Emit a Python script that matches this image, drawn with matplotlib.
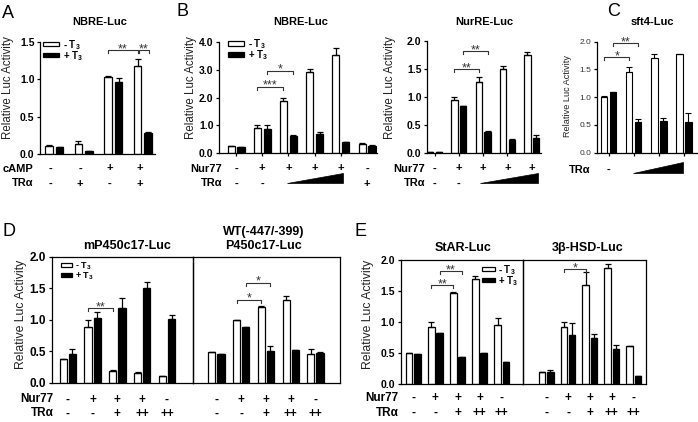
import numpy as np
import matplotlib
matplotlib.use("Agg")
import matplotlib.pyplot as plt
from matplotlib.transforms import Affine2D, blended_transform_factory
from matplotlib.patches import Polygon, Rectangle

plt.rcParams['font.family'] = ['Liberation Sans', 'DejaVu Sans']
plt.rcParams['mathtext.default'] = 'regular'

# ---------------- data ----------------
A_cAMP = ['-', '-', '+', '+']
A_TRa = ['-', '+', '-', '+']
A_minus = [0.11, 0.14, 1.03, 1.18]
A_minus_err = [0.01, 0.04, 0.02, 0.09]
A_plus = [0.09, 0.045, 0.97, 0.28]
A_plus_err = [0.01, 0.0, 0.05, 0.01]

B1_Nur77 = ['-', '+', '+', '+', '+', '-']
B1_TRa = ['-', '-', '', '', '', '+']
B1_minus = [0.24, 0.90, 1.86, 2.92, 3.52, 0.33]
B1_minus_err = [0.02, 0.10, 0.12, 0.10, 0.25, 0.02]
B1_plus = [0.20, 0.87, 0.62, 0.67, 0.38, 0.25]
B1_plus_err = [0.01, 0.14, 0.03, 0.10, 0.0, 0.03]

B2_Nur77 = ['-', '+', '+', '+', '+']
B2_TRa = ['-', '-', '', '', '']
B2_minus = [0.01, 0.95, 1.27, 1.49, 1.74]
B2_minus_err = [0.0, 0.05, 0.09, 0.05, 0.06]
B2_plus = [0.01, 0.83, 0.37, 0.23, 0.26]
B2_plus_err = [0.0, 0.01, 0.01, 0.01, 0.06]

C_TRa = ['-', '', '', '']
C_minus = [1.01, 1.46, 1.70, 1.77]
C_minus_err = [0.02, 0.09, 0.07, 0.0]
C_plus = [1.09, 0.56, 0.58, 0.56]
C_plus_err = [0.01, 0.04, 0.04, 0.15]

DE_Nur77 = ['-', '+', '+', '+', '-']
DE_TRa = ['-', '-', '+', '++', '++']

D1_minus = [0.37, 0.89, 0.18, 0.16, 0.11]
D1_minus_err = [0.0, 0.11, 0.02, 0.01, 0.0]
D1_plus = [0.46, 1.03, 1.19, 1.51, 1.01]
D1_plus_err = [0.07, 0.09, 0.16, 0.09, 0.07]

D2_minus = [0.49, 0.99, 1.20, 1.31, 0.45]
D2_minus_err = [0.0, 0.0, 0.01, 0.07, 0.08]
D2_plus = [0.46, 0.89, 0.50, 0.52, 0.47]
D2_plus_err = [0.0, 0.0, 0.08, 0.0, 0.01]

E1_minus = [0.51, 0.92, 1.47, 1.70, 0.95]
E1_minus_err = [0.0, 0.08, 0.01, 0.05, 0.12]
E1_plus = [0.49, 0.82, 0.44, 0.50, 0.36]
E1_plus_err = [0.0, 0.0, 0.0, 0.0, 0.0]

E2_minus = [0.19, 0.92, 1.60, 1.87, 0.61]
E2_minus_err = [0.0, 0.08, 0.20, 0.06, 0.01]
E2_plus = [0.19, 0.80, 0.74, 0.57, 0.13]
E2_plus_err = [0.04, 0.18, 0.07, 0.07, 0.01]

# ---------------- figure ----------------
W, H = 698, 422
fig = plt.figure(figsize=(W / 100, H / 100), dpi=100)
PX = Affine2D().scale(1 / W, -1 / H).translate(0, 1) + fig.transFigure


def add_ax(x0, x1, ybase, ytop):
    return fig.add_axes([x0 / W, 1 - ybase / H, (x1 - x0) / W, (ybase - ytop) / H])


def bars(ax, minus, minus_err, plus, plus_err, width, off, lw=0.9, cap=2.2):
    x = np.arange(len(minus))
    z = np.zeros(len(x))
    ax.bar(x - off, minus, width, color='white', edgecolor='black', linewidth=lw, zorder=2)
    ax.bar(x + off, plus, width, color='black', edgecolor='black', linewidth=lw, zorder=2)
    ax.errorbar(x - off, minus, yerr=[z, minus_err], fmt='none', ecolor='black',
                elinewidth=lw, capsize=cap, capthick=lw, zorder=3)
    ax.errorbar(x + off, plus, yerr=[z, plus_err], fmt='none', ecolor='black',
                elinewidth=lw, capsize=cap, capthick=lw, zorder=3)


def style(ax, xlim, ymax, ystep, fs, weight='bold', color='black', box=False,
          yticks=True, xticks=False):
    ax.set_xlim(*xlim)
    ax.set_ylim(0, ymax)
    for s in ['top', 'right']:
        ax.spines[s].set_visible(box)
    for s in ax.spines.values():
        s.set_linewidth(0.9)
    if yticks:
        ticks = np.arange(0, ymax + 1e-9, ystep)
        ax.set_yticks(ticks)
        ax.set_yticklabels([f"{t:.1f}" for t in ticks], fontsize=fs, fontweight=weight,
                           color=color)
        ax.tick_params(axis='y', length=2.5, width=0.9, pad=1.5)
    else:
        ax.set_yticks([])
    if xticks:
        ax.set_xticks(np.arange(int(round(xlim[1]))))
        ax.tick_params(axis='x', length=2.5, width=0.9, labelbottom=False)
    else:
        ax.set_xticks([])
    ax.patch.set_alpha(0)


def rows(ax, names, signs_list, name_x, ys, fs, dx=0.0, ramp=None):
    tr = blended_transform_factory(ax.transData, PX)
    for name, signs, y in zip(names, signs_list, ys):
        fig.text(name_x, y, name, transform=PX, ha='right', va='center',
                 fontsize=fs, fontweight='bold')
        for i, s in enumerate(signs):
            if s:
                ax.text(i + dx, y, s, transform=tr, ha='center', va='center',
                        fontsize=fs, fontweight='bold', clip_on=False)
    if ramp is not None:
        xa, xb, yb, yt = ramp
        poly = Polygon([[xa, yb], [xb, yb], [xb, yt]], closed=True, transform=tr,
                       facecolor='black', edgecolor='black', lw=0.5, clip_on=False)
        ax.add_patch(poly)


def bracket(ax, xa, xb, y, text, leg, fs=9):
    ax.plot([xa, xa, xb, xb], [y - leg, y, y, y - leg], color='#333333', lw=0.8,
            clip_on=False, zorder=4)
    ax.text((xa + xb) / 2, y - leg * 0.75, text, ha='center', va='baseline',
            fontsize=fs, color='#333333', clip_on=False)


def legend(x, y, dy, w, h, fs, gap=4):
    for k, (fc, lab) in enumerate([('white', '- T$_3$'), ('black', '+ T$_3$')]):
        yy = y + k * dy
        fig.patches.append(Rectangle((x, yy - h / 2), w, h, transform=PX, facecolor=fc,
                                     edgecolor='black', lw=0.9))
        fig.text(x + w + gap, yy + 1, lab, transform=PX, ha='left', va='center', fontsize=fs,
                 fontweight='bold')


def ylabel(x, y, fs):
    fig.text(x, y, 'Relative Luc Activity', transform=PX, rotation=90, ha='center',
             va='center', fontsize=fs, color='#222222')


def letter(x, y, s):
    fig.text(x, y, s, transform=PX, ha='left', va='center', fontsize=13)


def title(x, y, s, fs):
    fig.text(x, y, s, transform=PX, ha='center', va='center', fontsize=fs, fontweight='bold')


# ---------------- Panel A ----------------
axA = add_ax(40, 155, 154, 42)
bars(axA, A_minus, A_minus_err, A_plus, A_plus_err, 0.26, 0.18)
style(axA, (-0.48, 3.41), 1.5, 0.5, 7.5)
rows(axA, ['cAMP', 'TR\u03b1'], [A_cAMP, A_TRa], 33, [168.5, 183.5], 8, dx=-0.12)
legA = 1.5 / 112 * 3
bracket(axA, 2 - 0.18, 3 - 0.18, 1.39, '**', legA)
bracket(axA, 3 - 0.14, 3 + 0.2, 1.39, '**', legA)
legend(43, 44, 11, 16, 4.5, 7)
ylabel(8, 88, 8.3)
letter(2, 13, 'A')
title(100, 22, 'NBRE-Luc', 8)

# ---------------- Panel B (NBRE) ----------------
axB1 = add_ax(219, 377, 153, 42)
bars(axB1, B1_minus, B1_minus_err, B1_plus, B1_plus_err, 0.27, 0.19)
style(axB1, (-0.65, 5.38), 4.0, 1.0, 7.5, xticks=True)
rows(axB1, ['Nur77', 'TR\u03b1'], [B1_Nur77, B1_TRa], 222, [168.5, 183.5], 8,
     ramp=(1.94, 4.1, 183, 172.5))
legB = 4.0 / 111 * 3
bracket(axB1, 1 - 0.19, 2 - 0.19, 2.39, '***', legB)
bracket(axB1, 1 + 0.19, 2 + 0.19, 2.97, '*', legB)
legend(228, 43.5, 11, 16, 4.5, 7)
ylabel(191, 88, 8.3)
letter(176, 12, 'B')
title(301, 22, 'NBRE-Luc', 8)

# ---------------- Panel B (NurRE) ----------------
axB2 = add_ax(427, 541, 152.7, 40.7)
bars(axB2, B2_minus, B2_minus_err, B2_plus, B2_plus_err, 0.265, 0.18)
style(axB2, (-0.31, 4.38), 2.0, 0.5, 7.5, xticks=True)
rows(axB2, ['Nur77', 'TR\u03b1'], [B2_Nur77, B2_TRa], 425, [168.5, 183.5], 8,
     ramp=(1.87, 4.27, 183.3, 172.5))
legB2 = 2.0 / 112 * 3
bracket(axB2, 1 - 0.18, 2 - 0.18, 1.49, '**', legB2)
bracket(axB2, 1 + 0.18, 2 + 0.18, 1.82, '**', legB2)
ylabel(390, 88, 8.3)
title(484, 22, 'NurRE-Luc', 8)

# ---------------- Panel C ----------------
axC = add_ax(597, 697, 152.7, 41.7)
bars(axC, C_minus, C_minus_err, C_plus, C_plus_err, 0.25, 0.18, lw=0.8, cap=2.0)
style(axC, (-0.47, 3.52), 2.0, 0.5, 6, weight='normal', color='#333333', xticks=True)
rows(axC, ['TR\u03b1'], [C_TRa], 590, [170], 8, ramp=(0.98, 2.97, 172.7, 161.7))
legC = 2.0 / 111 * 3
bracket(axC, 0 - 0.18, 1 - 0.18, 1.72, '*', legC)
bracket(axC, 0 + 0.18, 1 + 0.18, 1.97, '**', legC)
ylabel(568, 96, 6.6)
letter(607, 11, 'C')
title(652, 22, 'sft4-Luc', 8)

# ---------------- Panel D ----------------
axD1 = add_ax(51.7, 193.3, 382.7, 256.7)
bars(axD1, D1_minus, D1_minus_err, D1_plus, D1_plus_err, 0.29, 0.185)
style(axD1, (-0.645, 5.06), 2.0, 0.5, 8.5, box=True)
axD2 = add_ax(193.3, 340, 382.7, 256.7)
bars(axD2, D2_minus, D2_minus_err, D2_plus, D2_plus_err, 0.29, 0.185)
style(axD2, (-0.93, 4.99), 2.0, 0.5, 8.5, box=True, yticks=False)
rows(axD1, ['Nur77', 'TR\u03b1'], [DE_Nur77, DE_TRa], 53.5, [399.5, 413.5], 8.5)
rows(axD2, ['', ''], [DE_Nur77, DE_TRa], 53.5, [399.5, 413.5], 8.5)
legD = 2.0 / 126 * 3
bracket(axD1, 1 - 0.185, 2 - 0.185, 1.18, '**', legD)
bracket(axD2, 1 - 0.185, 2 - 0.185, 1.32, '*', legD)
bracket(axD2, 1 + 0.185, 2 + 0.185, 1.59, '*', legD)
legend(60.7, 265, 10, 11, 4.5, 6.5, gap=3)
ylabel(21.5, 314, 8.8)
letter(2, 231, 'D')
title(127, 246, 'mP450c17-Luc', 9)
title(264, 232, 'WT(-447/-399)', 9)
title(264, 246, 'P450c17-Luc', 9)

# ---------------- Panel E ----------------
axE1 = add_ax(400.7, 522.7, 384.3, 260)
bars(axE1, E1_minus, E1_minus_err, E1_plus, E1_plus_err, 0.30, 0.19)
style(axE1, (-0.57, 4.95), 2.0, 0.5, 7.5, box=True)
axE2 = add_ax(522.7, 646, 384.3, 260)
bars(axE2, E2_minus, E2_minus_err, E2_plus, E2_plus_err, 0.30, 0.19)
style(axE2, (-1.07, 4.56), 2.0, 0.5, 7.5, box=True, yticks=False)
rows(axE1, ['Nur77', 'TR\u03b1'], [DE_Nur77, DE_TRa], 398.5, [398, 413], 8.5)
rows(axE2, ['', ''], [DE_Nur77, DE_TRa], 398.5, [398, 413], 8.5)
legE = 2.0 / 124.3 * 3
bracket(axE1, 1 - 0.19, 2 - 0.19, 1.60, '**', legE)
bracket(axE1, 1 + 0.19, 2 + 0.19, 1.82, '**', legE)
bracket(axE2, 1 - 0.19, 2 - 0.19, 1.85, '*', legE)
legend(482, 269, 11, 13, 4.5, 7, gap=3)
ylabel(368, 314, 8.8)
letter(355, 231, 'E')
title(463, 248, 'StAR-Luc', 9)
title(588, 248, '3\u03b2-HSD-Luc', 9)

fig.savefig('out.png', dpi=100)
